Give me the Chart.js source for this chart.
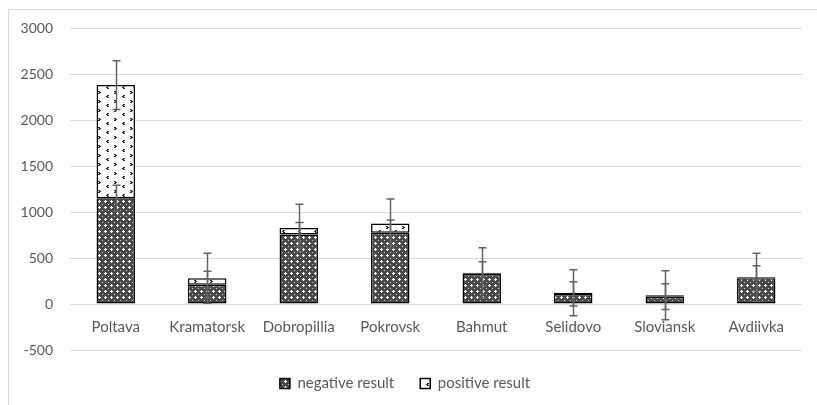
<!DOCTYPE html>
<html>
<head>
<meta charset="utf-8">
<script src="https://cdn.jsdelivr.net/npm/chart.js@4.4.0/dist/chart.umd.min.js"></script>
<style>
  html, body { margin: 0; padding: 0; background: #fff; }
  #wrap { width: 817px; height: 405px; }
</style>
</head>
<body>
<div id="wrap"><canvas id="chart" width="817" height="405"></canvas></div>
<script>
// data
const cities = ['Poltava', 'Kramatorsk', 'Dobropillia', 'Pokrovsk', 'Bahmut', 'Selidovo', 'Sloviansk', 'Avdiivka'];
const negative = [1150, 210, 755, 775, 330, 110, 80, 280];
const positive = [1230, 70, 70, 100, 10, 12, 15, 10];
const negativeErr = [140, 145, 132, 138, 130, 132, 140, 136];
const positiveErr = [265, 272, 258, 266, 272, 250, 266, 262];
const yTicks = [-500, 0, 500, 1000, 1500, 2000, 2500, 3000];

const textColor = '#595959';
const gridColor = '#d9d9d9';

function makeTile(w, h, draw) {
    const c = document.createElement('canvas');
    c.width = w;
    c.height = h;
    const g = c.getContext('2d');
    draw(g);
    return document.createElement('canvas').getContext('2d').createPattern(c, 'repeat');
}

// dark cross-hatch with little white crosses
const negPattern = makeTile(6, 6, function(g) {
    g.fillStyle = '#4a4a4a';
    g.fillRect(0, 0, 6, 6);
    g.fillStyle = '#ffffff';
    g.fillRect(3, 2, 1, 3);
    g.fillRect(2, 3, 3, 1);
    g.fillStyle = '#c8c8c8';
    g.fillRect(0, 0, 1, 1);
});

// white with small dark chevrons, staggered
const posPattern = makeTile(16, 9, function(g) {
    g.fillStyle = '#ffffff';
    g.fillRect(0, 0, 16, 9);
    g.fillStyle = '#2a2a2a';
    // ">"
    g.fillRect(2, 1, 2, 1);
    g.fillRect(3, 2, 2, 1);
    g.fillRect(2, 3, 2, 1);
    // "<"
    g.fillRect(11, 5, 2, 1);
    g.fillRect(10, 6, 2, 1);
    g.fillRect(11, 7, 2, 1);
});

const frame = {
    id: 'frame',
    beforeDraw(chart) {
        const ctx = chart.ctx;
        ctx.save();
        ctx.fillStyle = '#fff';
        ctx.fillRect(0, 0, chart.width, chart.height);
        ctx.strokeStyle = gridColor;
        ctx.lineWidth = 1;
        ctx.strokeRect(8.5, 9.5, chart.width + 20, chart.height + 20);
        ctx.restore();
    }
};

const errorBars = {
    id: 'errorBars',
    afterDatasetsDraw(chart) {
        const ctx = chart.ctx;
        const y = chart.scales.y;
        const sets = [
            { meta: chart.getDatasetMeta(0), top: i => negative[i], err: negativeErr },
            { meta: chart.getDatasetMeta(1), top: i => negative[i] + positive[i], err: positiveErr }
        ];
        ctx.save();
        ctx.strokeStyle = '#636363';
        ctx.lineWidth = 1.5;
        sets.forEach(s => {
            s.meta.data.forEach((bar, i) => {
                const hi = y.getPixelForValue(s.top(i) + s.err[i]);
                const lo = y.getPixelForValue(s.top(i) - s.err[i]);
                const x = Math.round(bar.x) + 0.5;
                ctx.beginPath();
                ctx.moveTo(x, hi);
                ctx.lineTo(x, lo);
                ctx.moveTo(x - 4, hi);
                ctx.lineTo(x + 4, hi);
                ctx.moveTo(x - 4, lo);
                ctx.lineTo(x + 4, lo);
                ctx.stroke();
            });
        });
        ctx.restore();
    }
};

const ctx = document.getElementById('chart').getContext('2d');
new Chart(ctx, {
    type: 'bar',
    data: {
        labels: cities,
        datasets: [
            {
                label: 'negative result',
                data: negative,
                backgroundColor: negPattern,
                borderColor: '#000',
                borderWidth: 1.5,
                borderSkipped: false,
                categoryPercentage: 1,
                barPercentage: 0.42
            },
            {
                label: 'positive result',
                data: positive,
                backgroundColor: posPattern,
                borderColor: '#000',
                borderWidth: 1.5,
                borderSkipped: false,
                categoryPercentage: 1,
                barPercentage: 0.42
            }
        ]
    },
    options: {
        responsive: false,
        animation: false,
        layout: { padding: { left: 8, right: 15, top: 28, bottom: 4 } },
        plugins: {
            tooltip: { enabled: false },
            legend: {
                position: 'bottom',
                labels: {
                    color: textColor,
                    font: { family: 'Lato', size: 15 },
                    boxWidth: 10,
                    boxHeight: 10,
                    padding: 26
                }
            }
        },
        scales: {
            x: {
                stacked: true,
                position: { y: 0 },
                grid: { display: false },
                border: { display: false },
                ticks: {
                    color: textColor,
                    font: { family: 'Lato', size: 15 },
                    padding: 6,
                    maxRotation: 0
                }
            },
            y: {
                stacked: true,
                min: -500,
                max: 3000,
                afterBuildTicks(scale) {
                    scale.ticks = yTicks.map(v => ({ value: v }));
                },
                afterFit(scale) {
                    scale.width = 62;
                },
                grid: { color: gridColor, lineWidth: 1, drawTicks: false },
                border: { display: false },
                ticks: {
                    color: textColor,
                    font: { family: 'Lato', size: 14 },
                    padding: 17,
                    callback: v => String(v)
                }
            }
        }
    },
    plugins: [frame, errorBars]
});
</script>
</body>
</html>
